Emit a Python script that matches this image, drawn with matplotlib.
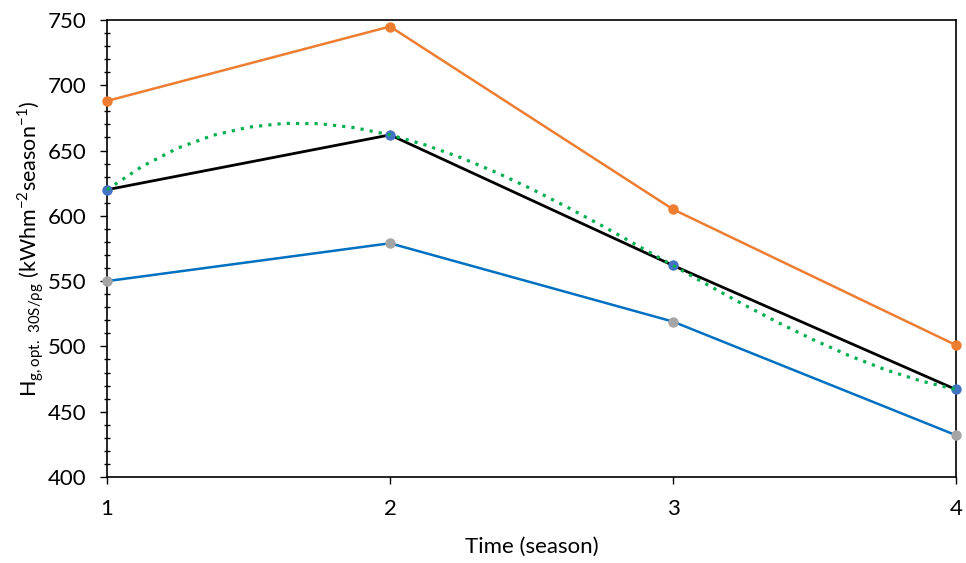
import numpy as np
import matplotlib
matplotlib.use('Agg')
import matplotlib.pyplot as plt
from matplotlib.ticker import MultipleLocator

plt.rcParams['font.family'] = ['Lato', 'DejaVu Sans']
plt.rcParams['mathtext.fontset'] = 'custom'
plt.rcParams['mathtext.rm'] = 'Lato'

seasons = [1, 2, 3, 4]
orange_vals = [688, 745, 605, 501]
black_vals = [620, 662, 562, 467]
blue_vals = [550, 579, 519, 432]

# dotted trend curve
trend_x = [1.0, 1.125, 1.25, 1.375, 1.5, 1.625, 1.75, 1.875, 2.0,
           2.125, 2.25, 2.375, 2.5, 2.625, 2.75, 2.875, 3.0,
           3.125, 3.25, 3.375, 3.5, 3.625, 3.75, 3.875, 4.0]
trend_y = [620.0, 638.0, 651.9, 661.7, 667.9, 670.8, 670.6, 667.5, 662.0,
           654.3, 644.6, 633.3, 620.6, 606.8, 592.3, 577.2, 562.0,
           546.8, 532.0, 517.9, 504.7, 492.7, 482.2, 473.6, 467.0]

fig = plt.figure(figsize=(9.66, 5.63), dpi=100)
ax = fig.add_axes([0.1108, 0.1528, 0.8788, 0.8117])

ax.plot(seasons, orange_vals, color='#ED7D31', lw=1.8, marker='o', ms=6.5,
        mfc='#ED7D31', mec='#ED7D31', zorder=3, clip_on=False)
ax.plot(seasons, blue_vals, color='#0070C0', lw=1.8, marker='o', ms=6.5,
        mfc='#A5A5A5', mec='#A5A5A5', zorder=3, clip_on=False)
ax.plot(seasons, black_vals, color='black', lw=2.0, marker='o', ms=6.5,
        mfc='#4472C4', mec='#4472C4', zorder=3, clip_on=False)
ax.plot(trend_x, trend_y, color='#00B050', lw=2.3, linestyle=(0, (1, 1.9)),
        zorder=4, clip_on=False)

ax.set_xlim(1, 4)
ax.set_ylim(400, 750)
ax.set_xticks(seasons)
ax.yaxis.set_major_locator(MultipleLocator(50))
ax.yaxis.set_minor_locator(MultipleLocator(10))

ax.tick_params(axis='both', which='major', direction='out', length=5,
               width=1.0, labelsize=16, pad=10, colors='black')
ax.tick_params(axis='y', which='minor', direction='inout', length=4.5, width=1.0)
ax.tick_params(axis='x', which='major', pad=11)

for s in ax.spines.values():
    s.set_linewidth(1.2)
    s.set_color('black')

ax.set_xlabel('Time (season)', fontsize=16, labelpad=13)
ax.set_ylabel(r'H$_{\mathregular{g,opt.\ 30S/\rho g}}$ (kWhm$^{\mathregular{-2}}$season$^{\mathregular{-1}}$)',
              fontsize=15.5, labelpad=1)

fig.savefig('out.png', dpi=100)
